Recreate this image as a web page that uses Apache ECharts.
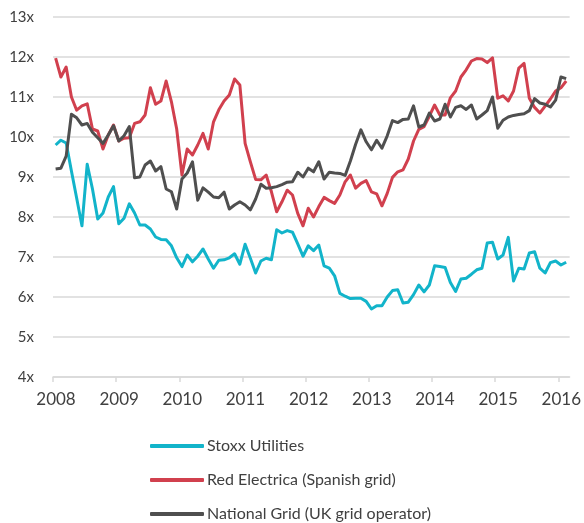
<!DOCTYPE html>
<html>
<head>
<meta charset="utf-8">
<script src="https://cdn.jsdelivr.net/npm/echarts@6/dist/echarts.min.js"></script>
<style>
html,body{margin:0;padding:0;background:#fff;}
#chart{width:584px;height:523px;}
</style>
</head>
<body>
<div id="chart"></div>
<script>
// Monthly data, first point = January 2008
const startYear = 2008;
const yearTicks = [2008, 2009, 2010, 2011, 2012, 2013, 2014, 2015, 2016];
const seriesNames = ['Stoxx Utilities', 'Red Electrica (Spanish grid)', 'National Grid (UK grid operator)'];

const stoxxUtilities = [
  9.8, 9.92, 9.85, 9.15, 8.47, 7.78, 9.32, 8.7, 7.95, 8.1, 8.5, 8.76,
  7.83, 7.97, 8.33, 8.1, 7.8, 7.8, 7.7, 7.5, 7.44, 7.43, 7.28, 6.98,
  6.76, 7.05, 6.88, 7.02, 7.2, 6.95, 6.72, 6.92, 6.93, 6.98, 7.08, 6.82,
  7.32, 6.97, 6.6, 6.9, 6.97, 6.93, 7.68, 7.6, 7.66, 7.62, 7.33, 7.02,
  7.28, 7.16, 7.3, 6.78, 6.72, 6.53, 6.09, 6.02, 5.96, 5.97, 5.97, 5.89,
  5.7, 5.78, 5.78, 6.0, 6.16, 6.18, 5.85, 5.87, 6.06, 6.3, 6.13, 6.3,
  6.78, 6.76, 6.74, 6.36, 6.14, 6.45, 6.47, 6.57, 6.68, 6.72, 7.35, 7.37,
  6.95, 7.05, 7.49, 6.4, 6.72, 6.7, 7.1, 7.13, 6.72, 6.6, 6.86, 6.9,
  6.8, 6.87
];

const redElectrica = [
  11.97, 11.5, 11.75, 11.0, 10.67, 10.78, 10.83, 10.2, 10.15, 9.7, 10.05, 10.3,
  9.9, 9.97, 9.98, 10.34, 10.38, 10.55, 11.23, 10.82, 10.9, 11.4, 10.88, 10.2,
  9.05, 9.7, 9.55, 9.8, 10.09, 9.7, 10.38, 10.68, 10.9, 11.05, 11.45, 11.3,
  9.84, 9.38, 8.94, 8.93, 9.05, 8.63, 8.13, 8.38, 8.67, 8.55, 8.09, 7.78,
  8.22, 8.0, 8.26, 8.49, 8.41, 8.34, 8.55, 8.88, 9.05, 8.72, 8.84, 8.91,
  8.63, 8.58, 8.28, 8.59, 8.99, 9.13, 9.18, 9.45, 9.9, 10.19, 10.26, 10.52,
  10.8, 10.55, 10.55, 10.98, 11.15, 11.5, 11.68, 11.9, 11.96, 11.95, 11.86, 11.98,
  10.97, 11.03, 10.9, 11.15, 11.72, 11.84, 10.97, 10.74, 10.6, 10.77, 10.95, 11.15,
  11.23, 11.4
];

const nationalGrid = [
  9.2, 9.22, 9.52, 10.57, 10.48, 10.3, 10.34, 10.12, 9.98, 9.84, 10.05, 10.28,
  9.9, 10.03, 10.26, 8.98, 9.0, 9.3, 9.4, 9.15, 9.26, 8.7, 8.63, 8.2,
  8.95, 9.1, 9.38, 8.42, 8.73, 8.62, 8.5, 8.48, 8.62, 8.2, 8.3, 8.38,
  8.3, 8.18, 8.45, 8.82, 8.72, 8.73, 8.76, 8.81, 8.87, 8.88, 9.12, 9.0,
  9.22, 9.13, 9.38, 8.95, 9.12, 9.1, 9.09, 9.04, 9.4, 9.82, 10.18, 9.88,
  9.68, 9.92, 9.72, 10.03, 10.41, 10.36, 10.44, 10.45, 10.78, 10.25, 10.3, 10.6,
  10.4, 10.45, 10.82, 10.5, 10.74, 10.78, 10.69, 10.8, 10.45, 10.55, 10.66, 11.0,
  10.22, 10.42, 10.5, 10.54, 10.56, 10.58, 10.66, 10.96, 10.85, 10.82, 10.75, 10.92,
  11.5, 11.46
];

const colors = ['#12b4ca', '#d1404e', '#4f4f4f'];

function toPoints(arr) {
  return arr.map((v, i) => [startYear + (i + 0.5) / 12, v]);
}

const font = 'Lato, "Open Sans", sans-serif';
const textColor = '#404040';
const gridColor = '#d9d9d9';

const chart = echarts.init(document.getElementById('chart'), null, {renderer: 'canvas'});
chart.setOption({
  animation: false,
  color: colors,
  grid: {left: 53, right: 13, top: 17, bottom: 146, containLabel: false},
  legend: {
    orient: 'vertical',
    left: 150,
    top: 438,
    padding: 0,
    itemWidth: 54,
    itemHeight: 4,
    itemGap: 18,
    icon: 'roundRect',
    textStyle: {fontFamily: font, fontSize: 16, color: textColor, lineHeight: 16, padding: [0, 0, 0, -2]},
    data: seriesNames
  },
  xAxis: {
    type: 'value',
    min: 2008,
    max: 2016.18,
    interval: 1,
    splitLine: {show: false},
    axisLine: {show: true, lineStyle: {color: gridColor, width: 1.5}},
    axisTick: {show: true, length: 5, lineStyle: {color: gridColor, width: 1.5}, customValues: yearTicks},
    axisLabel: {
      customValues: yearTicks,
      margin: 14,
      padding: [0, 0, 0, 6],
      fontFamily: font,
      fontSize: 17,
      color: textColor,
      formatter: v => String(Math.round(v))
    }
  },
  yAxis: {
    type: 'value',
    min: 4,
    max: 13,
    interval: 1,
    axisLine: {show: false},
    axisTick: {show: false},
    splitLine: {lineStyle: {color: gridColor, width: 1.5}},
    axisLabel: {
      margin: 19,
      fontFamily: font,
      fontSize: 15,
      color: textColor,
      formatter: '{value}x'
    }
  },
  series: [
    {name: seriesNames[0], type: 'line', data: toPoints(stoxxUtilities), showSymbol: false, lineStyle: {width: 3, join: 'round'}},
    {name: seriesNames[1], type: 'line', data: toPoints(redElectrica), showSymbol: false, lineStyle: {width: 3, join: 'round'}},
    {name: seriesNames[2], type: 'line', data: toPoints(nationalGrid), showSymbol: false, lineStyle: {width: 3, join: 'round'}}
  ]
});
</script>
</body>
</html>
